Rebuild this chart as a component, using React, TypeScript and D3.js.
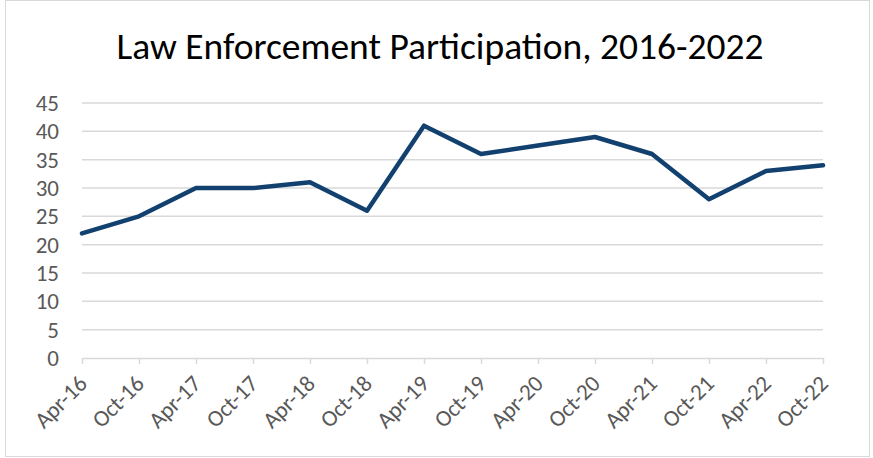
import React, { useEffect, useRef } from 'react'
import * as d3 from 'd3'

const categories = ['Apr-16', 'Oct-16', 'Apr-17', 'Oct-17', 'Apr-18', 'Oct-18', 'Apr-19',
  'Oct-19', 'Apr-20', 'Oct-20', 'Apr-21', 'Oct-21', 'Apr-22', 'Oct-22']
const participation = [22, 25, 30, 30, 31, 26, 41, 36, 37.5, 39, 36, 28, 33, 34]
const yTicks = [0, 5, 10, 15, 20, 25, 30, 35, 40, 45]

const width = 873
const height = 458
const font = 'Carlito, Calibri, Lato, "Open Sans", sans-serif'

export default function App() {
  const ref = useRef<SVGSVGElement>(null)

  useEffect(() => {
    const svg = d3.select(ref.current)
    svg.selectAll('*').remove()

    // chart frame
    svg.append('rect')
      .attr('x', 5.5).attr('y', 0.5)
      .attr('width', 864).attr('height', 456)
      .attr('fill', '#fff').attr('stroke', '#d9d9d9')

    const x = d3.scalePoint<string>().domain(categories).range([82, 823])
    const y = d3.scaleLinear().domain([0, 45]).range([358, 103])

    svg.append('text')
      .attr('x', 440).attr('y', 59)
      .attr('text-anchor', 'middle')
      .style('font-family', font)
      .style('font-size', '37.5px')
      .attr('fill', '#000')
      .text('Law Enforcement Participation, 2016-2022')

    // gridlines
    svg.append('g').selectAll('line')
      .data(yTicks.filter(d => d > 0))
      .join('line')
      .attr('x1', 82).attr('x2', 823)
      .attr('y1', d => y(d)).attr('y2', d => y(d))
      .attr('stroke', '#d9d9d9').attr('stroke-width', 1.5)

    // y labels
    svg.append('g').selectAll('text')
      .data(yTicks)
      .join('text')
      .attr('x', 59).attr('y', d => y(d))
      .attr('dy', '0.35em')
      .attr('text-anchor', 'end')
      .style('font-family', font)
      .style('font-size', '23px')
      .attr('fill', '#595959')
      .text(d => d)

    // x axis
    const xAxis = svg.append('g').attr('transform', `translate(0,${y(0)})`)
      .call(d3.axisBottom(x).tickSize(6).tickPadding(0).tickSizeOuter(0))
    xAxis.select('.domain').attr('stroke', '#d9d9d9').attr('stroke-width', 1.5)
    xAxis.selectAll('.tick line').attr('stroke', '#d9d9d9').attr('stroke-width', 1.5)
    xAxis.selectAll('.tick text')
      .attr('fill', '#595959')
      .style('font-family', font)
      .style('font-size', '23px')
      .attr('text-anchor', 'end')
      .attr('dy', '0')
      .attr('y', 0)
      .attr('transform', 'translate(6,27) rotate(-45)')

    const line = d3.line<number>()
      .x((d, i) => x(categories[i]) as number)
      .y(d => y(d))

    svg.append('path')
      .datum(participation)
      .attr('d', line)
      .attr('fill', 'none')
      .attr('stroke', '#124170')
      .attr('stroke-width', 4.5)
      .attr('stroke-linejoin', 'round')
      .attr('stroke-linecap', 'round')
  }, [])

  return (
    <svg ref={ref} width={width} height={height}
      style={{ position: 'absolute', left: 0, top: 0, background: '#fff' }} />
  )
}
